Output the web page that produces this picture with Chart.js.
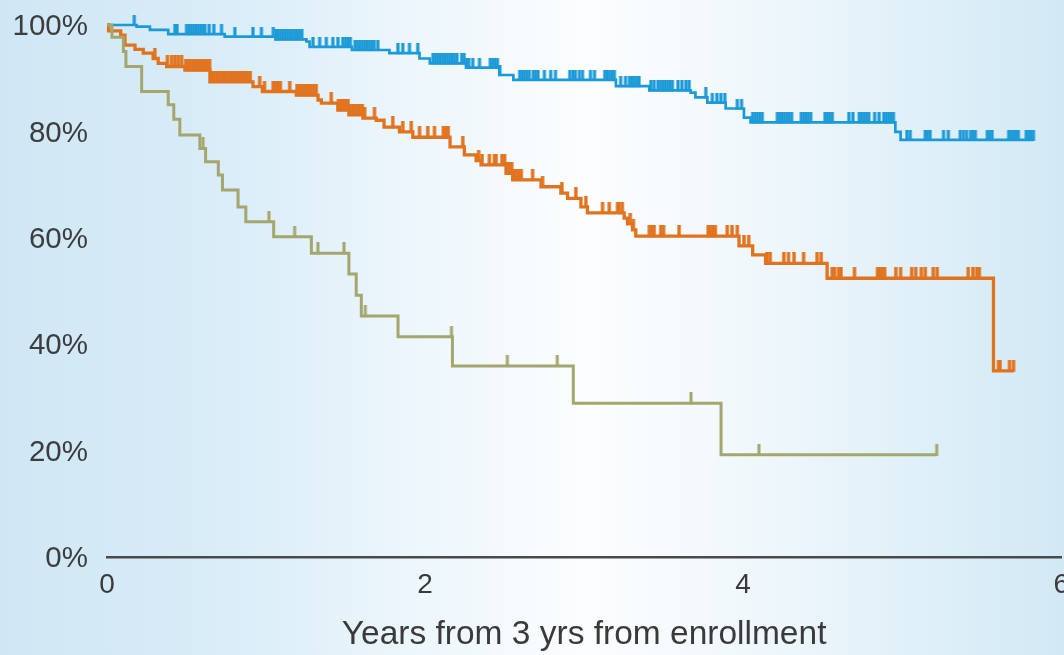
<!DOCTYPE html>
<html>
<head>
<meta charset="utf-8">
<script src="https://cdn.jsdelivr.net/npm/chart.js@4/dist/chart.umd.min.js"></script>
<style>
  html, body { margin: 0; padding: 0; width: 1064px; height: 655px; overflow: hidden; }
  body {
    background: linear-gradient(90deg, #cfe7f5 0%, #daedf8 22%, #eef7fc 40%, #fbfdfe 55%, #f1f8fc 70%, #deeff8 88%, #d2e9f5 100%);
  }
  #wrap { position: absolute; left: 0; top: 0; width: 1080px; height: 655px; }
</style>
</head>
<body>
<div id="wrap"><canvas id="km" width="1080" height="655"></canvas></div>
<script>
// Kaplan–Meier survival estimates (years, % surviving)
const greenTimes = [0, 0.031, 0.103, 0.119, 0.218, 0.385, 0.42, 0.458, 0.584, 0.62, 0.70, 0.726, 0.824, 0.873, 1.048, 1.285, 1.521, 1.567, 1.599, 1.83, 2.172, 2.932, 3.861];
const greenSurv  = [100, 97.7, 95.0, 92.2, 87.5, 85.0, 82.3, 79.3, 76.8, 74.3, 71.8, 69.0, 65.8, 63.0, 60.2, 57.1, 53.2, 49.2, 45.3, 41.4, 35.9, 28.9, 19.2];
const greenCensor = [0.604, 1.018, 1.18, 1.326, 1.49, 1.624, 2.166, 2.517, 2.831, 3.672, 4.099, 5.217];

const blueTimes = [0, 0.186, 0.27, 0.385, 0.74, 1.06, 1.254, 1.274, 1.54, 1.776, 1.965, 2.03, 2.258, 2.467, 2.555, 3.20, 3.41, 3.67, 3.70, 3.775, 3.89, 4.005, 4.047, 4.957, 4.99];
const blueSurv  = [100, 99.7, 99.1, 98.3, 97.8, 97.3, 96.9, 95.9, 95.3, 94.7, 93.7, 92.8, 92.0, 90.6, 89.7, 88.5, 87.7, 87.3, 86.4, 85.4, 84.3, 82.6, 81.7, 79.9, 78.4];
const blueCensor = [0.171, 0.427, 0.44, 0.50, 0.515, 0.53, 0.545, 0.56, 0.575, 0.59, 0.605, 0.615, 0.642, 0.672, 0.72, 0.804, 0.918, 0.971,
  1.045, 1.062, 1.075, 1.09, 1.105, 1.12, 1.135, 1.15, 1.165, 1.18, 1.195, 1.21, 1.225, 1.295, 1.337, 1.379, 1.42, 1.452, 1.483, 1.50, 1.515, 1.53,
  1.56, 1.575, 1.59, 1.605, 1.62, 1.635, 1.65, 1.665, 1.68, 1.703, 1.829, 1.86, 1.902, 1.954, 2.05, 2.065, 2.08, 2.095, 2.11, 2.125, 2.14, 2.155,
  2.17, 2.185, 2.2, 2.23, 2.245, 2.262, 2.275, 2.30, 2.342, 2.41, 2.425, 2.44, 2.455, 2.47, 2.595, 2.61, 2.625, 2.64, 2.655, 2.68, 2.695, 2.71,
  2.75, 2.79, 2.82, 2.91, 2.93, 2.945, 2.97, 2.99, 3.04, 3.065, 3.13, 3.145, 3.16, 3.175, 3.19, 3.23, 3.26, 3.285, 3.30, 3.315, 3.33, 3.345,
  3.42, 3.44, 3.465, 3.48, 3.495, 3.51, 3.525, 3.54, 3.555, 3.59, 3.615, 3.64, 3.66, 3.765, 3.806, 3.835, 3.86, 3.885, 3.963, 3.99,
  4.06, 4.075, 4.09, 4.105, 4.12, 4.215, 4.23, 4.245, 4.26, 4.275, 4.29, 4.305, 4.365, 4.38, 4.395, 4.41, 4.425, 4.515, 4.53, 4.545, 4.56,
  4.665, 4.69, 4.73, 4.745, 4.76, 4.775, 4.79, 4.827, 4.855, 4.885, 4.90, 4.915, 4.93, 4.945, 5.03, 5.05, 5.145, 5.16, 5.175, 5.26, 5.29,
  5.365, 5.385, 5.405, 5.43, 5.445, 5.46, 5.535, 5.55, 5.565, 5.67, 5.685, 5.70, 5.715, 5.73, 5.78, 5.795, 5.81, 5.825];

const orangeTimes = [0, 0.01, 0.086, 0.113, 0.176, 0.228, 0.29, 0.322, 0.375, 0.49, 0.647, 0.918, 0.977, 1.19, 1.327, 1.348, 1.452, 1.521, 1.609, 1.693, 1.742, 1.839, 1.923, 2.157, 2.247, 2.321, 2.352, 2.509, 2.551, 2.729, 2.854, 2.896, 2.98, 3.021, 3.252, 3.273, 3.304, 3.325, 3.974, 4.06, 4.141, 4.528, 5.574];
const orangeSurv  = [100, 98.9, 98.1, 96.2, 95.4, 94.7, 93.7, 92.8, 92.2, 91.5, 89.3, 88.4, 87.5, 86.8, 85.9, 85.3, 84.0, 83.1, 82.5, 82.1, 80.8, 79.9, 78.9, 77.1, 75.6, 74.5, 73.7, 72.1, 70.9, 69.6, 68.4, 67.4, 65.8, 64.7, 63.7, 62.6, 61.5, 60.3, 58.5, 56.8, 55.2, 52.4, 35.0];
const orangeCensor = [0.301, 0.38, 0.406, 0.427, 0.448, 0.469, 0.495, 0.51, 0.525, 0.54, 0.555, 0.57, 0.585, 0.60, 0.615, 0.63, 0.645, 0.66,
  0.675, 0.69, 0.705, 0.72, 0.735, 0.75, 0.765, 0.78, 0.795, 0.81, 0.825, 0.84, 0.855, 0.87, 0.885, 0.90, 0.96, 0.99, 1.045, 1.06, 1.075, 1.09,
  1.149, 1.195, 1.21, 1.225, 1.24, 1.255, 1.27, 1.285, 1.30, 1.315, 1.41, 1.455, 1.47, 1.485, 1.50, 1.515, 1.53, 1.545, 1.56, 1.575, 1.59,
  1.605, 1.62, 1.682, 1.797, 1.86, 1.913, 1.965, 2.017, 2.059, 2.115, 2.13, 2.145, 2.237, 2.337, 2.358, 2.404, 2.436, 2.446, 2.484, 2.50,
  2.515, 2.53, 2.545, 2.56, 2.575, 2.59, 2.605, 2.676, 2.739, 2.86, 2.948, 3.011, 3.116, 3.158, 3.21, 3.22, 3.24, 3.29, 3.31, 3.41, 3.425,
  3.44, 3.482, 3.50, 3.597, 3.78, 3.795, 3.81, 3.825, 3.90, 3.93, 3.963, 4.005, 4.035, 4.15, 4.17, 4.256, 4.285, 4.32, 4.38, 4.465, 4.49,
  4.56, 4.575, 4.60, 4.615, 4.70, 4.845, 4.86, 4.875, 4.89, 4.96, 4.99, 5.06, 5.085, 5.12, 5.145, 5.195, 5.22, 5.415, 5.445, 5.47, 5.485,
  5.606, 5.615, 5.675, 5.70];

const xTicks = [0, 2, 4, 6];
const yTicks = [0, 20, 40, 60, 80, 100];
const xTitle = 'Years from 3 yrs from enrollment';

const COLORS = { green: '#a4a66d', blue: '#1c9ad7', orange: '#e1731f' };

// value of a step curve at time t
function survivalAt(times, surv, t) {
  let v = surv[0];
  for (let i = 0; i < times.length; i++) { if (times[i] <= t) v = surv[i]; else break; }
  return v;
}

// curve points, extended flat to the last follow-up time
function curvePoints(times, surv, censor) {
  const pts = times.map((t, i) => ({ x: t, y: surv[i] }));
  const end = censor[censor.length - 1];
  if (end > times[times.length - 1]) pts.push({ x: end, y: surv[surv.length - 1] });
  return pts;
}

function censorPoints(times, surv, censor) {
  return censor.map(t => ({ x: t, y: survivalAt(times, surv, t) }));
}

// censor mark: a short vertical stroke rising above the point
function tickMark(color, width, height) {
  const c = document.createElement('canvas');
  c.width = 6; c.height = height * 2;
  const g = c.getContext('2d');
  g.fillStyle = color;
  g.fillRect((6 - width) / 2, 0, width, height + 1);
  return c;
}

function curveDataset(points, color, width) {
  return {
    data: points, borderColor: color, borderWidth: width, stepped: 'before',
    pointRadius: 0, fill: false, clip: false, borderJoinStyle: 'miter', borderCapStyle: 'butt'
  };
}
function censorDataset(points, color, width, height) {
  return {
    data: points, showLine: false, pointStyle: tickMark(color, width, height),
    pointRadius: 4, clip: false
  };
}

const datasets = [
  curveDataset(curvePoints(greenTimes, greenSurv, greenCensor), COLORS.green, 3),
  censorDataset(censorPoints(greenTimes, greenSurv, greenCensor), COLORS.green, 3, 11),
  curveDataset(curvePoints(orangeTimes, orangeSurv, orangeCensor), COLORS.orange, 3.3),
  censorDataset(censorPoints(orangeTimes, orangeSurv, orangeCensor), COLORS.orange, 3.4, 11),
  curveDataset(curvePoints(blueTimes, blueSurv, blueCensor), COLORS.blue, 2.7),
  censorDataset(censorPoints(blueTimes, blueSurv, blueCensor), COLORS.blue, 3.2, 10)
];

const FONT = '"Liberation Sans", Arial, sans-serif';

new Chart(document.getElementById('km'), {
  type: 'line',
  data: { datasets },
  options: {
    responsive: false,
    animation: false,
    events: [],
    devicePixelRatio: 1,
    layout: { padding: { top: 25, right: 18, left: 0, bottom: 0 } },
    plugins: { legend: { display: false }, tooltip: { enabled: false } },
    scales: {
      x: {
        type: 'linear', min: xTicks[0], max: xTicks[xTicks.length - 1],
        afterBuildTicks: s => { s.ticks = xTicks.map(v => ({ value: v })); },
        afterFit: s => { s.height = 98; },
        grid: { display: false, drawTicks: false },
        border: { display: true, color: '#4a4a4a', width: 2.5 },
        ticks: { color: '#3a3a3a', padding: 11, font: { family: FONT, size: 28 } },
        title: {
          display: true, text: xTitle, color: '#3a3a3a', padding: { top: 0, bottom: 0 },
          font: { family: FONT, size: 33.5 }
        }
      },
      y: {
        min: yTicks[0], max: yTicks[yTicks.length - 1],
        afterBuildTicks: s => { s.ticks = yTicks.map(v => ({ value: v })); },
        afterFit: s => { s.width = 107; s.paddingTop = 10; s.paddingBottom = 10; },
        grid: { display: false, drawTicks: false },
        border: { display: false },
        ticks: {
          color: '#3d3d3d', padding: 19, labelOffset: 2, callback: v => v + '%',
          font: { family: FONT, size: 29.5 }
        }
      }
    }
  }
});
</script>
</body>
</html>
